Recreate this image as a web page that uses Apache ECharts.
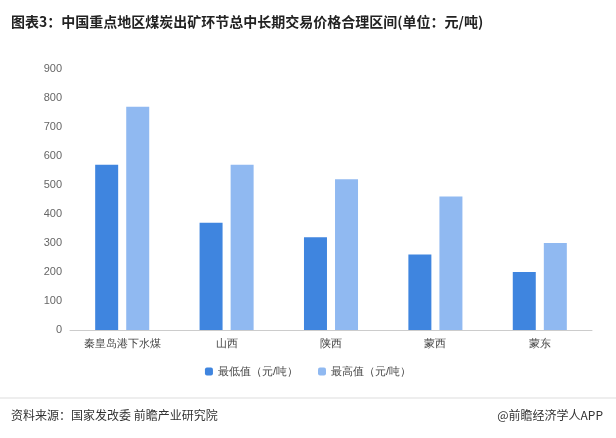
<!DOCTYPE html><html><head><meta charset="utf-8"><script src="https://cdn.jsdelivr.net/npm/echarts@6/dist/echarts.min.js"></script></head><body style="margin:0"><div id="c" style="width:616px;height:438px"></div><script>
const categories=['秦皇岛港下水煤','山西','陕西','蒙西','蒙东'];
const lowVals=[570,370,320,260,200];
const highVals=[770,570,520,460,300];
const c=echarts.init(document.getElementById('c'));
c.setOption({animation:false,
title:[{text:'图表3：中国重点地区煤炭出矿环节总中长期交易价格合理区间(单位：元/吨)',left:6,top:10,textStyle:{fontSize:14,fontWeight:'bold',color:'#222',fontFamily:'Noto Sans CJK SC'}},
{text:'资料来源：国家发改委 前瞻产业研究院',left:6,top:404,textStyle:{fontSize:12,fontWeight:'normal',color:'#333',fontFamily:'Noto Sans CJK SC'}},
{text:'@前瞻经济学人APP',right:8,top:404,textStyle:{fontSize:12,fontWeight:'normal',color:'#333',fontFamily:'Noto Sans CJK SC'}}],
legend:{bottom:56,itemWidth:8,itemHeight:8,itemGap:20,textStyle:{fontSize:11,color:'#444'},data:['最低值（元/吨）','最高值（元/吨）']},
grid:{left:70,right:24,top:69,bottom:108},
xAxis:{type:'category',data:categories,axisTick:{show:false},axisLine:{lineStyle:{color:'#ccc'}},axisLabel:{color:'#444',fontSize:11}},
yAxis:{type:'value',min:0,max:900,interval:100,splitLine:{show:false},axisLabel:{color:'#666',fontSize:11},axisLine:{show:false}},
series:[{name:'最低值（元/吨）',type:'bar',data:lowVals,barWidth:23,barGap:'35%',itemStyle:{color:'#3f85df'}},
{name:'最高值（元/吨）',type:'bar',data:highVals,barWidth:23,itemStyle:{color:'#90b9f1'}}],
graphic:[{type:'line',shape:{x1:0,y1:398,x2:616,y2:398},style:{stroke:'#ddd'}}]});
</script></body></html>
